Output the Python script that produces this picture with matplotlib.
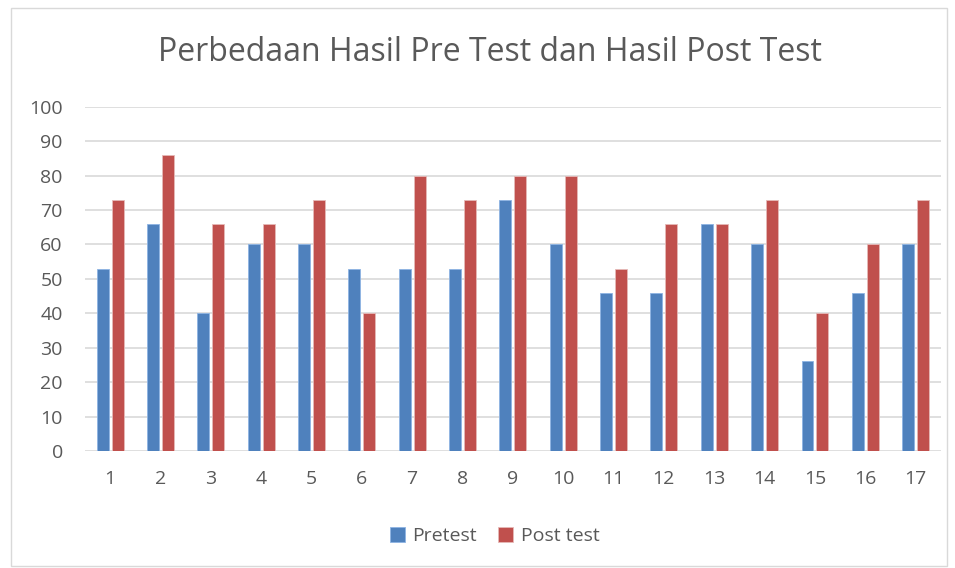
import numpy as np
import matplotlib
matplotlib.use("Agg")
import matplotlib.pyplot as plt
from matplotlib.patches import FancyBboxPatch

plt.rcParams['font.family'] = ['Open Sans', 'DejaVu Sans']

categories = [str(i) for i in range(1, 18)]
pretest = [53, 66, 40, 60, 60, 53, 53, 53, 73, 60, 46, 46, 66, 60, 26, 46, 60]
posttest = [73, 86, 66, 66, 73, 40, 80, 73, 80, 80, 53, 66, 66, 73, 40, 60, 73]

blue = '#4f81bd'
red = '#c0504d'
text_gray = '#595959'

fig = plt.figure(figsize=(9.55, 5.68), dpi=100)
# chart border
fig.patches.append(FancyBboxPatch((0.011, 0.004), 0.981, 0.982,
                                  boxstyle='square,pad=0', transform=fig.transFigure,
                                  fill=False, edgecolor='#d9d9d9', linewidth=1))

ax = fig.add_axes([0.089, 0.206, 0.896, 0.606])
x = np.arange(len(categories))
w = 0.235
ax.bar(x - w / 2 - 0.03, pretest, w, color=blue, edgecolor='#8eb4e3', linewidth=0.6, label='Pretest')
ax.bar(x + w / 2 + 0.03, posttest, w, color=red, edgecolor='#e6b9b8', linewidth=0.6, label='Post test')

ax.set_ylim(0, 100)
ax.set_xlim(-0.5, len(categories) - 0.5)
ax.set_yticks(range(0, 101, 10))
ax.set_xticks(x)
ax.set_xticklabels(categories)
ax.yaxis.grid(True, color='#d9d9d9', linewidth=1.2)
ax.set_axisbelow(True)
for s in ax.spines.values():
    s.set_visible(False)
ax.tick_params(length=0, labelsize=14, colors=text_gray)
ax.tick_params(axis='x', pad=14)
ax.tick_params(axis='y', pad=16)

fig.text(0.513, 0.908, 'Perbedaan Hasil Pre Test dan Hasil Post Test',
         ha='center', va='center', fontsize=23, color=text_gray)

fig.legend(loc='center', bbox_to_anchor=(0.518, 0.056), ncol=2, frameon=False,
           fontsize=14, labelcolor=text_gray, handlelength=0.75, handleheight=0.75,
           handletextpad=0.4, columnspacing=1.1)

fig.savefig('out.png', dpi=100)
